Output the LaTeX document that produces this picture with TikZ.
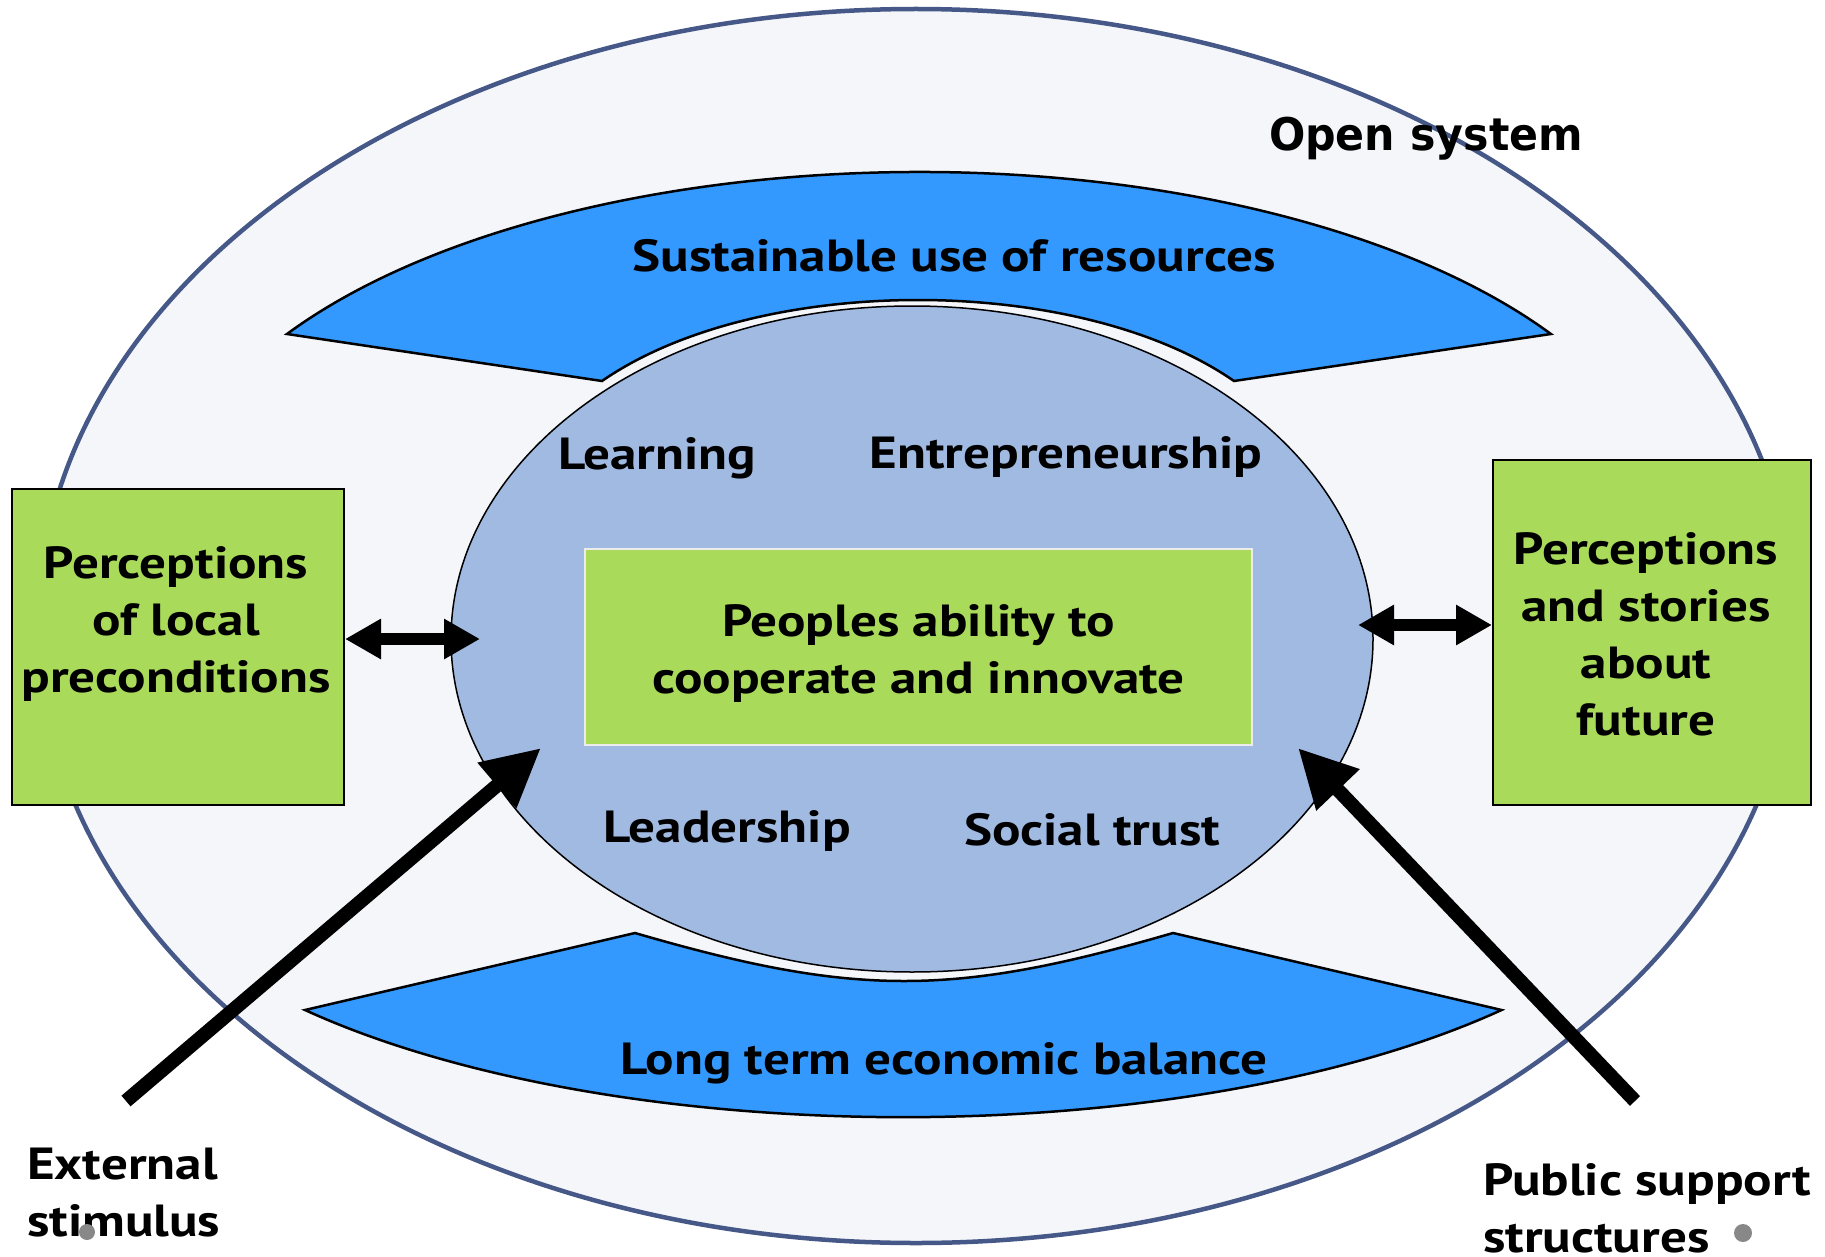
\documentclass[tikz,border=0pt]{standalone}
\usepackage{fontspec}
\setmainfont[FakeStretch=1.18]{PT Sans}
\newfontfamily\osfont[FakeStretch=0.95]{DejaVu Sans}
\usetikzlibrary{arrows.meta,shapes.geometric}
\definecolor{sysfill}{RGB}{244,246,250}
\definecolor{sysline}{RGB}{70,88,135}
\definecolor{bluefill}{RGB}{51,153,255}
\definecolor{corefill}{RGB}{161,186,226}
\definecolor{greenfill}{RGB}{170,218,90}
\definecolor{dotgray}{RGB}{136,136,136}
\pgfdeclareradialshading{bgshade}{\pgfpoint{0bp}{0bp}}{color(0bp)=(white); color(25bp)=(white); color(35bp)=(white!96!black); color(50bp)=(white!84!black)}
\tikzset{
  blueshape/.style={fill=bluefill, draw=black, line width=2.5pt, line join=miter},
  greenbox/.style={rectangle, fill=greenfill, draw=black, line width=2pt, inner sep=0pt},
  lbl/.style={font=\bfseries\fontsize{45}{57}\selectfont, inner sep=0pt, align=center},
  dblarrow/.style={line width=12pt, {Triangle[length=36pt,width=38pt]}-{Triangle[length=36pt,width=38pt]}},
  bigarrow/.style={line width=14pt, -{Triangle[length=58pt,width=56pt]}}
}
\begin{document}
\begin{tikzpicture}[x=1pt,y=1pt]
\useasboundingbox (0,0) rectangle (1825,-1257);
% background
\begin{scope}
  \clip (0,0) rectangle (1825,-1257);
  \shade[shading=bgshade] (912.5,-628.5) ellipse [x radius=1300, y radius=900];
\end{scope}
% open system ellipse
\draw[fill=sysfill, draw=sysline, line width=4.5pt] (916,-626) ellipse [x radius=878, y radius=617];
% top blue shape
\draw[blueshape] (287,-334) arc[start angle=147.6, end angle=32.4, x radius=748.5, y radius=349]
  -- (1234,-381) .. controls (1078,-273) and (758,-273) .. (602,-381) -- cycle;
% bottom blue shape
\draw[blueshape] (305,-1010) arc[start angle=220, end angle=320, x radius=781, y radius=300]
  -- (1173,-933) .. controls (953,-997) and (855,-997) .. (635,-933) -- cycle;
% core ellipse
\node[ellipse, fill=corefill, draw=black, line width=1.5pt, inner sep=0pt,
      minimum width=922, minimum height=666] (core) at (912,-639) {};
% central green box
\node[rectangle, fill=greenfill, draw=white!85!gray, line width=2pt, inner sep=0pt,
      minimum width=667, minimum height=196] (ability) at (918.5,-647) {};
\node[lbl] (abtxt) at (918.5,-653) {Peoples ability to\\cooperate and innovate};
% labels
\node[font=\osfont\bfseries\fontsize{45}{54}\selectfont, inner sep=0pt] (osys) at (1426,-139) {Open system};
\node[lbl] (sust) at (954,-256) {Sustainable use of resources};
\node[lbl] (learn) at (657,-458) {Learning};
\node[lbl] (entre) at (1066,-457) {Entrepreneurship};
\node[lbl] (lead) at (727,-831) {Leadership};
\node[lbl] (trust) at (1092,-830) {Social trust};
\node[lbl] (long) at (944,-1063) {Long term economic balance};
% side boxes
\node[greenbox, minimum width=332, minimum height=316] (lbox) at (178,-647) {};
\node[lbl] (ltxt) at (176,-624) {Perceptions\\of local\\preconditions};
\node[greenbox, minimum width=318, minimum height=345] (rbox) at (1652,-632.5) {};
\node[lbl] (rtxt) at (1646,-634) {Perceptions\\and stories\\about\\future};
% bottom texts
\node[lbl, align=left, anchor=west] (ext) at (27,-1192.5) {External\\stimulus};
\node[lbl, align=left, anchor=west] (pub) at (1483,-1208.5) {Public support\\structures};
% grey dots
\fill[dotgray] (87,-1232) circle[radius=8];
\fill[dotgray] (1743,-1233) circle[radius=9];
% arrows
\coordinate (lin) at (480,-639);
\coordinate (rin) at (1358,-625);
\draw[dblarrow] (lbox.east |- lin) -- (lin);
\draw[dblarrow] (rin) -- (rbox.west |- rin);
\coordinate (exs) at (126,-1101);
\coordinate (exe) at (541,-748);
\coordinate (pss) at (1635,-1101);
\coordinate (pse) at (1298,-748);
\draw[bigarrow] (exs) -- (exe);
\draw[bigarrow] (pss) -- (pse);
\end{tikzpicture}
\end{document}
